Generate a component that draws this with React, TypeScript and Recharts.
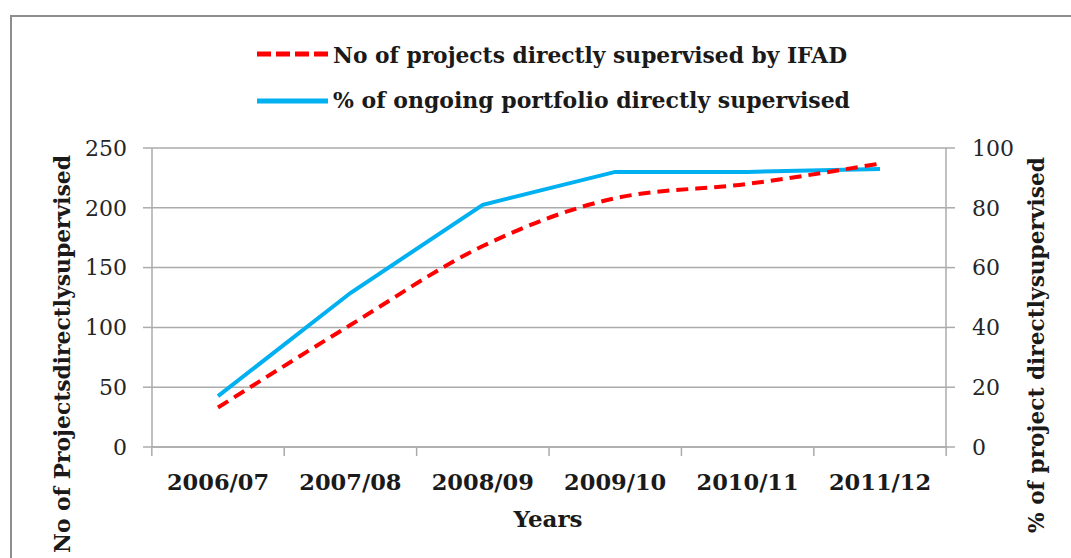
import React from "react";
import { LineChart, Line, XAxis, YAxis, CartesianGrid } from "recharts";

const years = ["2006/07", "2007/08", "2008/09", "2009/10", "2010/11", "2011/12"];
const projectsSupervised = [33, 102, 168, 208, 220, 237];
const portfolioShare = [17, 51.5, 81, 92, 92, 93];
const leftTicks = [0, 50, 100, 150, 200, 250];
const rightTicks = [0, 20, 40, 60, 80, 100];

const data = years.map((year, i) => ({
  year,
  projects: projectsSupervised[i],
  share: portfolioShare[i],
}));

const FONT = "'DejaVu Serif', serif";
const GRID = "#ababab";
const RED = "#ff0000";
const BLUE = "#00b0f0";
const TICK_SIZE = 9;
const TICK_MARGIN = 18;

const numberTick = { fontFamily: FONT, fontSize: 22, fill: "#262626" };

// category label plus Excel-style tick marks on the band edges
function YearTick(props: any) {
  const { x, y, payload, index, width, visibleTicksCount } = props;
  const half = width / visibleTicksCount / 2;
  const top = y - TICK_SIZE - TICK_MARGIN;
  return (
    <g>
      <line x1={x - half} y1={top} x2={x - half} y2={top + TICK_SIZE} stroke={GRID} strokeWidth={1.5} />
      {index === visibleTicksCount - 1 && (
        <line x1={x + half} y1={top} x2={x + half} y2={top + TICK_SIZE} stroke={GRID} strokeWidth={1.5} />
      )}
      <text
        x={x}
        y={y}
        dy={16}
        textAnchor="middle"
        fontFamily={FONT}
        fontWeight="bold"
        fontSize={22.5}
        fill="#1a1a1a"
      >
        {payload.value}
      </text>
    </g>
  );
}

function Overlay() {
  return (
    <svg
      width={1071}
      height={558}
      style={{ position: "absolute", left: 0, top: 0, pointerEvents: "none" }}
    >
      <g fontFamily={FONT} fontWeight="bold" fill="#1a1a1a">
        <line x1={257} y1={54} x2={328} y2={54} stroke={RED} strokeWidth={5} strokeDasharray="14 5" />
        <text x={333} y={63} fontSize={23} textLength={514} lengthAdjust="spacingAndGlyphs">
          No of projects directly supervised by IFAD
        </text>
        <line x1={257} y1={101} x2={328} y2={101} stroke={BLUE} strokeWidth={5} />
        <text x={333} y={108} fontSize={23} textLength={517} lengthAdjust="spacingAndGlyphs">
          % of ongoing portfolio directly supervised
        </text>
        <text x={548} y={527} fontSize={23} textAnchor="middle">
          Years
        </text>
        <text
          transform="translate(70 354) rotate(-90)"
          fontSize={22}
          textAnchor="middle"
          textLength={398}
          lengthAdjust="spacingAndGlyphs"
        >
          No of Projectsdirectlysupervised
        </text>
        <text
          transform="translate(1044 345) rotate(-90)"
          fontSize={22}
          textAnchor="middle"
          textLength={376}
          lengthAdjust="spacingAndGlyphs"
        >
          % of project directlysupervised
        </text>
      </g>
    </svg>
  );
}

export default function App() {
  return (
    <div
      style={{
        position: "absolute",
        left: 0,
        top: 0,
        width: 1071,
        height: 558,
        overflow: "hidden",
        background: "#fff",
      }}
    >
      <div
        style={{
          position: "absolute",
          left: 10,
          top: 15,
          width: 1200,
          height: 700,
          border: "2px solid #8e8e8e",
        }}
      />
      <div style={{ position: "absolute", left: 0, top: 0 }}>
        <LineChart
          width={1071}
          height={558}
          data={data}
          margin={{ top: 148, right: 65, bottom: 68, left: 92 }}
        >
          <CartesianGrid vertical={false} stroke={GRID} strokeWidth={1.5} yAxisId="left" />
          <XAxis
            dataKey="year"
            axisLine={{ stroke: GRID, strokeWidth: 1.5 }}
            tickLine={false}
            tickSize={TICK_SIZE}
            tickMargin={TICK_MARGIN}
            tick={<YearTick />}
            height={43}
            interval={0}
            padding={{ left: 66, right: 66 }}
          />
          <YAxis
            yAxisId="left"
            domain={[0, 250]}
            ticks={leftTicks}
            width={60}
            tickSize={9}
            tickMargin={16}
            axisLine={{ stroke: GRID, strokeWidth: 1.5 }}
            tickLine={{ stroke: GRID, strokeWidth: 1.5 }}
            tick={numberTick}
          />
          <YAxis
            yAxisId="right"
            orientation="right"
            domain={[0, 100]}
            ticks={rightTicks}
            width={60}
            tickSize={9}
            tickMargin={17}
            axisLine={{ stroke: GRID, strokeWidth: 1.5 }}
            tickLine={{ stroke: GRID, strokeWidth: 1.5 }}
            tick={numberTick}
          />
          <Line
            yAxisId="right"
            type="linear"
            dataKey="share"
            stroke={BLUE}
            strokeWidth={4}
            dot={false}
            isAnimationActive={false}
          />
          <Line
            yAxisId="left"
            type="monotone"
            dataKey="projects"
            stroke={RED}
            strokeWidth={4}
            strokeDasharray="12 7"
            dot={false}
            isAnimationActive={false}
          />
        </LineChart>
      </div>
      <Overlay />
    </div>
  );
}
